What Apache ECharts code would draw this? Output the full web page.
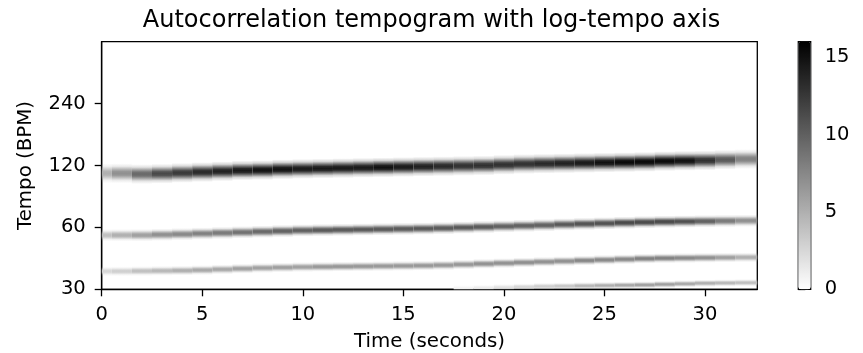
<!DOCTYPE html>
<html>
<head>
<meta charset="utf-8">
<script src="https://cdn.jsdelivr.net/npm/echarts@6/dist/echarts.min.js"></script>
<style>
  html, body { margin: 0; padding: 0; background: #fff; }
  #chart { width: 863px; height: 353px; }
</style>
</head>
<body>
<div id="chart"></div>
<script>
// sample times (seconds), one column of the tempogram per second
const times = [0, 1, 2, 3, 4, 5, 6, 7, 8, 9, 10, 11, 12, 13, 14, 15, 16,
  17, 18, 19, 20, 21, 22, 23, 24, 25, 26, 27, 28, 29, 30, 31, 32];

// tempo ridge centres (BPM)
const band1Tempo = [110, 110, 109, 109.5, 110.5, 111.5, 112.5, 113.5, 114, 115, 115.5, 116, 116.5,
  117, 117.5, 118, 118.5, 119, 119.5, 120, 121, 122, 122.5, 123, 123.5, 124, 124.5, 125, 126,
  126.5, 127, 128, 129];
const band2Tempo = [55, 55, 55, 55.3, 55.6, 56, 56.4, 56.8, 57.2, 57.6, 58, 58.2, 58.4, 58.6,
  58.8, 59, 59.2, 59.5, 59.9, 60.3, 60.7, 61.1, 61.5, 62, 62.4, 62.8, 63.2, 63.6, 63.9, 64.1,
  64.3, 64.5, 64.7];
const band3Tempo = [36.7, 36.7, 36.8, 36.9, 37, 37.2, 37.5, 37.8, 38.1, 38.3, 38.5, 38.6, 38.7,
  38.8, 38.9, 39, 39.1, 39.3, 39.6, 39.9, 40.2, 40.5, 40.8, 41.1, 41.4, 41.7, 42, 42.3, 42.5,
  42.6, 42.7, 42.8, 42.9];
const band4Tempo = [null, null, null, null, null, null, null, null, null, null, null, null, null,
  null, null, null, null, null, 30.2, 30.4, 30.6, 30.8, 31, 31.1, 31.2, 31.3, 31.4, 31.5, 31.7,
  31.9, 32.1, 32.2, 32.3];

// autocorrelation strength along each ridge
const band1Value = [5, 7, 9.5, 11.5, 12.5, 13.5, 14, 14.5, 15, 15, 14.5, 14.5, 14.5, 14.5, 15,
  14.5, 14, 13.5, 13, 13, 13, 13, 13.5, 14, 14.5, 15, 15.5, 15.5, 15.5, 15, 13, 10.5, 8];
const band2Value = [4, 5, 6, 7, 7.5, 8, 8.5, 9, 9.5, 10, 10, 10.5, 10.5, 10.5, 10.5, 10.5, 10.5,
  10.5, 10.5, 10.5, 10, 10, 10, 10.5, 11, 11, 11.5, 11.5, 11.5, 11, 10, 8.5, 7];
const band3Value = [2.5, 3, 4, 4.5, 5, 5.5, 5.5, 6, 6, 6, 6, 6.5, 6.5, 6.5, 6.5, 6.5, 6.5, 6.5,
  6.5, 7, 7, 7, 7, 7, 7.5, 7.5, 7.5, 8, 8, 7.5, 7, 6, 5];
const band4Value = [null, null, null, null, null, null, null, null, null, null, null, null, null,
  null, null, null, null, null, 0.8, 1.2, 1.8, 2.5, 3, 3.5, 4.5, 5, 5.5, 6, 6, 5.5, 5, 4.5, 4];

const timeTicks = [0, 5, 10, 15, 20, 25, 30];
const tempoTicks = [30, 60, 120, 240];
const colorTicks = [0, 5, 10, 15];

// styling
const X_MAX = 32.6;
const BAND_SPREAD = [0.16, 0.1, 0.08, 0.06]; // half height of each ridge, in octaves
const FONT = 'DejaVu Sans';

const bands = [
  [band1Tempo, band1Value],
  [band2Tempo, band2Value],
  [band3Tempo, band3Value],
  [band4Tempo, band4Value]
];
const cells = [];
bands.forEach(([tempo, value], b) => {
  times.forEach((t, i) => {
    if (tempo[i] == null) return;
    cells.push([t, tempo[i], value[i], b, i]);
  });
});

function renderCell(params, api) {
  const i = api.value(4);
  const tempo = api.value(1);
  const spread = Math.pow(2, BAND_SPREAD[api.value(3)]);
  const x0 = i === 0 ? 0 : (times[i - 1] + times[i]) / 2;
  const x1 = i === times.length - 1 ? X_MAX : (times[i] + times[i + 1]) / 2;
  const a = api.coord([x0, tempo * spread]);
  const b = api.coord([x1, tempo / spread]);
  const cs = params.coordSys;
  const shape = echarts.graphic.clipRectByRect(
    { x: a[0], y: a[1], width: b[0] - a[0], height: b[1] - a[1] },
    { x: cs.x, y: cs.y, width: cs.width, height: cs.height }
  );
  if (!shape) return;
  const c = api.visual('color');
  const fade = (al) => echarts.color.modifyAlpha(c, al);
  return {
    type: 'rect',
    shape: shape,
    style: {
      fill: new echarts.graphic.LinearGradient(0, a[1], 0, b[1], [
        { offset: 0, color: fade(0) },
        { offset: 0.15, color: fade(0.18) },
        { offset: 0.3, color: fade(0.65) },
        { offset: 0.4, color: fade(0.93) },
        { offset: 0.5, color: fade(1) },
        { offset: 0.6, color: fade(0.93) },
        { offset: 0.7, color: fade(0.65) },
        { offset: 0.85, color: fade(0.18) },
        { offset: 1, color: fade(0) }
      ], true)
    }
  };
}

const chart = echarts.init(document.getElementById('chart'), null, { renderer: 'canvas' });
chart.setOption({
  animation: false,
  backgroundColor: '#fff',
  textStyle: { fontFamily: FONT, color: '#000' },
  title: {
    text: 'Autocorrelation tempogram with log-tempo axis',
    left: 'center',
    top: 4,
    textStyle: { fontFamily: FONT, fontSize: 24, fontWeight: 'normal', color: '#000' }
  },
  grid: [
    { left: 101.7, top: 41.7, width: 655.6, height: 247.6, show: true, outerBoundsMode: 'none',
      containLabel: false, borderColor: '#000', borderWidth: 1.3, backgroundColor: 'transparent' },
    { left: 798.3, top: 41.7, width: 12.4, height: 247.6, show: true, outerBoundsMode: 'none',
      containLabel: false, borderColor: '#000', borderWidth: 1.3, backgroundColor: 'transparent' }
  ],
  xAxis: [
    {
      type: 'value', gridIndex: 0, min: 0, max: X_MAX,
      name: 'Time (seconds)', nameLocation: 'middle', nameGap: 43,
      nameTextStyle: { fontFamily: FONT, fontSize: 19.8, color: '#000' },
      axisLine: { lineStyle: { color: '#000', width: 1.3 } },
      axisTick: { length: 7, lineStyle: { color: '#000', width: 1.3 }, customValues: timeTicks },
      axisLabel: { fontFamily: FONT, fontSize: 19.5, color: '#000', margin: 16, customValues: timeTicks },
      splitLine: { show: false }
    },
    { type: 'value', gridIndex: 1, min: 0, max: 1, show: false }
  ],
  yAxis: [
    {
      type: 'log', logBase: 2, gridIndex: 0, min: 30, max: 480,
      name: 'Tempo (BPM)', nameLocation: 'middle', nameGap: 66, nameRotate: 90,
      nameTextStyle: { fontFamily: FONT, fontSize: 19.8, color: '#000' },
      axisLine: { lineStyle: { color: '#000', width: 1.3 } },
      axisTick: { length: 7, lineStyle: { color: '#000', width: 1.3 }, customValues: tempoTicks },
      axisLabel: { fontFamily: FONT, fontSize: 19.5, color: '#000', margin: 16, customValues: tempoTicks },
      splitLine: { show: false },
      minorTick: { show: false }
    },
    {
      type: 'value', gridIndex: 1, position: 'right', min: 0, max: 16,
      axisLine: { show: false },
      axisTick: { length: 7, lineStyle: { color: '#000', width: 1.3 }, customValues: colorTicks },
      axisLabel: { fontFamily: FONT, fontSize: 19.5, color: '#000', margin: 14, customValues: colorTicks },
      splitLine: { show: false }
    }
  ],
  visualMap: {
    type: 'continuous',
    seriesIndex: 0,
    dimension: 2,
    min: 0,
    max: 16,
    orient: 'vertical',
    left: 798.3,
    top: 41.7,
    itemWidth: 12.4,
    itemHeight: 247.6,
    padding: 0,
    calculable: false,
    hoverLink: false,
    text: null,
    showLabel: false,
    inRange: { color: ['#ffffff', '#000000'] }
  },
  series: [
    {
      type: 'custom',
      xAxisIndex: 0,
      yAxisIndex: 0,
      renderItem: renderCell,
      encode: { x: 0, y: 1 },
      data: cells
    }
  ]
});
</script>
</body>
</html>
